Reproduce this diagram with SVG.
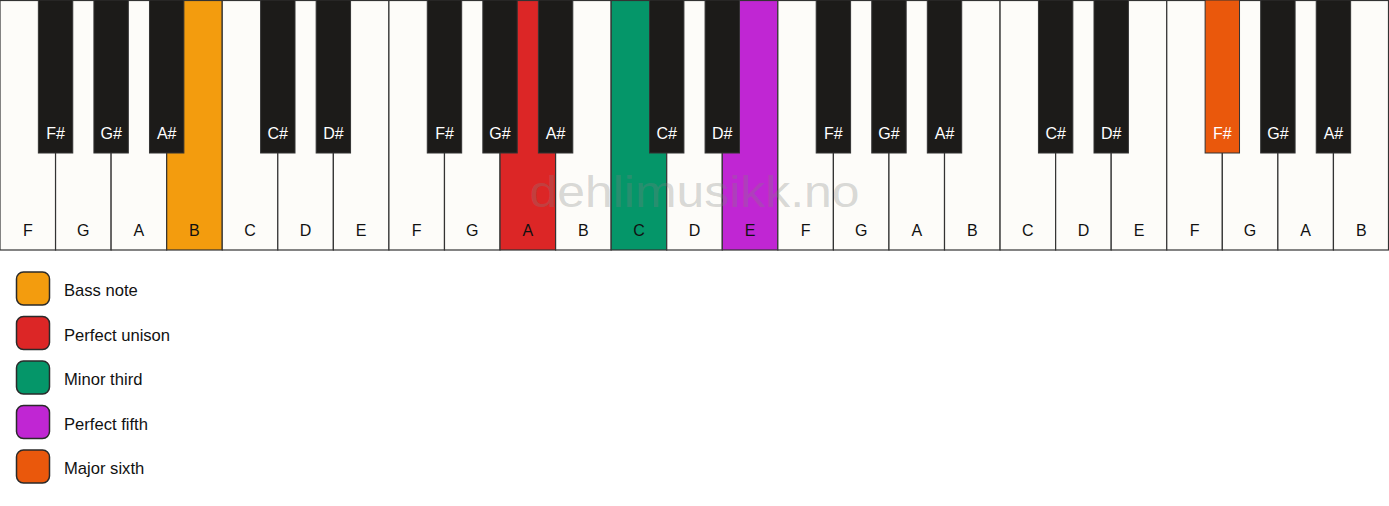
<svg xmlns="http://www.w3.org/2000/svg" width="1389" height="506" viewBox="0 0 1389 506">
<style>
.w{fill:#fdfcf9;stroke:#333;stroke-width:1.2}
.b{fill:#1c1b19;stroke:#333;stroke-width:1}
.wl{font-family:"Liberation Sans",Arial,sans-serif;font-size:16px;fill:#111;text-anchor:middle}
.bl{font-family:"Liberation Sans",Arial,sans-serif;font-size:16px;fill:#fff;text-anchor:middle}
.sw{stroke:#2a2a2a;stroke-width:1.5}
.lt{font-family:"Liberation Sans",Arial,sans-serif;font-size:16.6px;fill:#111}
.bass{fill:#f39c0e}.uni{fill:#dc2626}.min3{fill:#059669}.p5{fill:#c026d3}.maj6{fill:#ea580c}
</style>
<rect width="1389" height="506" fill="#ffffff"/>
<g id="white-keys">
<g id="w0"><rect class="w" x="0" y="0.5" width="55.56" height="249.5"/><text class="wl" x="27.78" y="236">F</text></g>
<g id="w1"><rect class="w" x="55.56" y="0.5" width="55.56" height="249.5"/><text class="wl" x="83.34" y="236">G</text></g>
<g id="w2"><rect class="w" x="111.12" y="0.5" width="55.56" height="249.5"/><text class="wl" x="138.9" y="236">A</text></g>
<g id="w3"><rect class="w bass" x="166.68" y="0.5" width="55.56" height="249.5"/><text class="wl" x="194.46" y="236">B</text></g>
<g id="w4"><rect class="w" x="222.24" y="0.5" width="55.56" height="249.5"/><text class="wl" x="250.02" y="236">C</text></g>
<g id="w5"><rect class="w" x="277.8" y="0.5" width="55.56" height="249.5"/><text class="wl" x="305.58" y="236">D</text></g>
<g id="w6"><rect class="w" x="333.36" y="0.5" width="55.56" height="249.5"/><text class="wl" x="361.14" y="236">E</text></g>
<g id="w7"><rect class="w" x="388.92" y="0.5" width="55.56" height="249.5"/><text class="wl" x="416.7" y="236">F</text></g>
<g id="w8"><rect class="w" x="444.48" y="0.5" width="55.56" height="249.5"/><text class="wl" x="472.26" y="236">G</text></g>
<g id="w9"><rect class="w uni" x="500.04" y="0.5" width="55.56" height="249.5"/><text class="wl" x="527.82" y="236">A</text></g>
<g id="w10"><rect class="w" x="555.6" y="0.5" width="55.56" height="249.5"/><text class="wl" x="583.38" y="236">B</text></g>
<g id="w11"><rect class="w min3" x="611.16" y="0.5" width="55.56" height="249.5"/><text class="wl" x="638.94" y="236">C</text></g>
<g id="w12"><rect class="w" x="666.72" y="0.5" width="55.56" height="249.5"/><text class="wl" x="694.5" y="236">D</text></g>
<g id="w13"><rect class="w p5" x="722.28" y="0.5" width="55.56" height="249.5"/><text class="wl" x="750.06" y="236">E</text></g>
<g id="w14"><rect class="w" x="777.84" y="0.5" width="55.56" height="249.5"/><text class="wl" x="805.62" y="236">F</text></g>
<g id="w15"><rect class="w" x="833.4" y="0.5" width="55.56" height="249.5"/><text class="wl" x="861.18" y="236">G</text></g>
<g id="w16"><rect class="w" x="888.96" y="0.5" width="55.56" height="249.5"/><text class="wl" x="916.74" y="236">A</text></g>
<g id="w17"><rect class="w" x="944.52" y="0.5" width="55.56" height="249.5"/><text class="wl" x="972.3" y="236">B</text></g>
<g id="w18"><rect class="w" x="1000.08" y="0.5" width="55.56" height="249.5"/><text class="wl" x="1027.86" y="236">C</text></g>
<g id="w19"><rect class="w" x="1055.64" y="0.5" width="55.56" height="249.5"/><text class="wl" x="1083.42" y="236">D</text></g>
<g id="w20"><rect class="w" x="1111.2" y="0.5" width="55.56" height="249.5"/><text class="wl" x="1138.98" y="236">E</text></g>
<g id="w21"><rect class="w" x="1166.76" y="0.5" width="55.56" height="249.5"/><text class="wl" x="1194.54" y="236">F</text></g>
<g id="w22"><rect class="w" x="1222.32" y="0.5" width="55.56" height="249.5"/><text class="wl" x="1250.1" y="236">G</text></g>
<g id="w23"><rect class="w" x="1277.88" y="0.5" width="55.56" height="249.5"/><text class="wl" x="1305.66" y="236">A</text></g>
<g id="w24"><rect class="w" x="1333.44" y="0.5" width="55.06" height="249.5"/><text class="wl" x="1361.22" y="236">B</text></g>
</g>
<text x="694.5" y="207" font-family="'Liberation Sans',Arial,sans-serif" font-size="44" fill="#808080" fill-opacity="0.3" text-anchor="middle" textLength="330" lengthAdjust="spacingAndGlyphs">dehlimusikk.no</text>
<g id="black-keys">
<g id="b1"><rect class="b" x="38.36" y="0" width="34.4" height="153"/><text class="bl" x="55.56" y="139">F#</text></g>
<g id="b2"><rect class="b" x="93.92" y="0" width="34.4" height="153"/><text class="bl" x="111.12" y="139">G#</text></g>
<g id="b3"><rect class="b" x="149.48" y="0" width="34.4" height="153"/><text class="bl" x="166.68" y="139">A#</text></g>
<g id="b5"><rect class="b" x="260.6" y="0" width="34.4" height="153"/><text class="bl" x="277.8" y="139">C#</text></g>
<g id="b6"><rect class="b" x="316.16" y="0" width="34.4" height="153"/><text class="bl" x="333.36" y="139">D#</text></g>
<g id="b8"><rect class="b" x="427.28" y="0" width="34.4" height="153"/><text class="bl" x="444.48" y="139">F#</text></g>
<g id="b9"><rect class="b" x="482.84" y="0" width="34.4" height="153"/><text class="bl" x="500.04" y="139">G#</text></g>
<g id="b10"><rect class="b" x="538.4" y="0" width="34.4" height="153"/><text class="bl" x="555.6" y="139">A#</text></g>
<g id="b12"><rect class="b" x="649.52" y="0" width="34.4" height="153"/><text class="bl" x="666.72" y="139">C#</text></g>
<g id="b13"><rect class="b" x="705.08" y="0" width="34.4" height="153"/><text class="bl" x="722.28" y="139">D#</text></g>
<g id="b15"><rect class="b" x="816.2" y="0" width="34.4" height="153"/><text class="bl" x="833.4" y="139">F#</text></g>
<g id="b16"><rect class="b" x="871.76" y="0" width="34.4" height="153"/><text class="bl" x="888.96" y="139">G#</text></g>
<g id="b17"><rect class="b" x="927.32" y="0" width="34.4" height="153"/><text class="bl" x="944.52" y="139">A#</text></g>
<g id="b19"><rect class="b" x="1038.44" y="0" width="34.4" height="153"/><text class="bl" x="1055.64" y="139">C#</text></g>
<g id="b20"><rect class="b" x="1094" y="0" width="34.4" height="153"/><text class="bl" x="1111.2" y="139">D#</text></g>
<g id="b22"><rect class="b maj6" x="1205.12" y="0" width="34.4" height="153"/><text class="bl" x="1222.32" y="139">F#</text></g>
<g id="b23"><rect class="b" x="1260.68" y="0" width="34.4" height="153"/><text class="bl" x="1277.88" y="139">G#</text></g>
<g id="b24"><rect class="b" x="1316.24" y="0" width="34.4" height="153"/><text class="bl" x="1333.44" y="139">A#</text></g>
</g>
<g id="legend">
<g id="leg-bass"><rect class="sw bass" x="16.5" y="272" width="33" height="33" rx="7"/><text class="lt" x="64" y="296">Bass note</text></g>
<g id="leg-unison"><rect class="sw uni" x="16.5" y="316.5" width="33" height="33" rx="7"/><text class="lt" x="64" y="340.5">Perfect unison</text></g>
<g id="leg-minor3"><rect class="sw min3" x="16.5" y="361" width="33" height="33" rx="7"/><text class="lt" x="64" y="385">Minor third</text></g>
<g id="leg-fifth"><rect class="sw p5" x="16.5" y="405.5" width="33" height="33" rx="7"/><text class="lt" x="64" y="429.5">Perfect fifth</text></g>
<g id="leg-sixth"><rect class="sw maj6" x="16.5" y="450" width="33" height="33" rx="7"/><text class="lt" x="64" y="474">Major sixth</text></g>
</g>
<g id="connectors"/>
</svg>
